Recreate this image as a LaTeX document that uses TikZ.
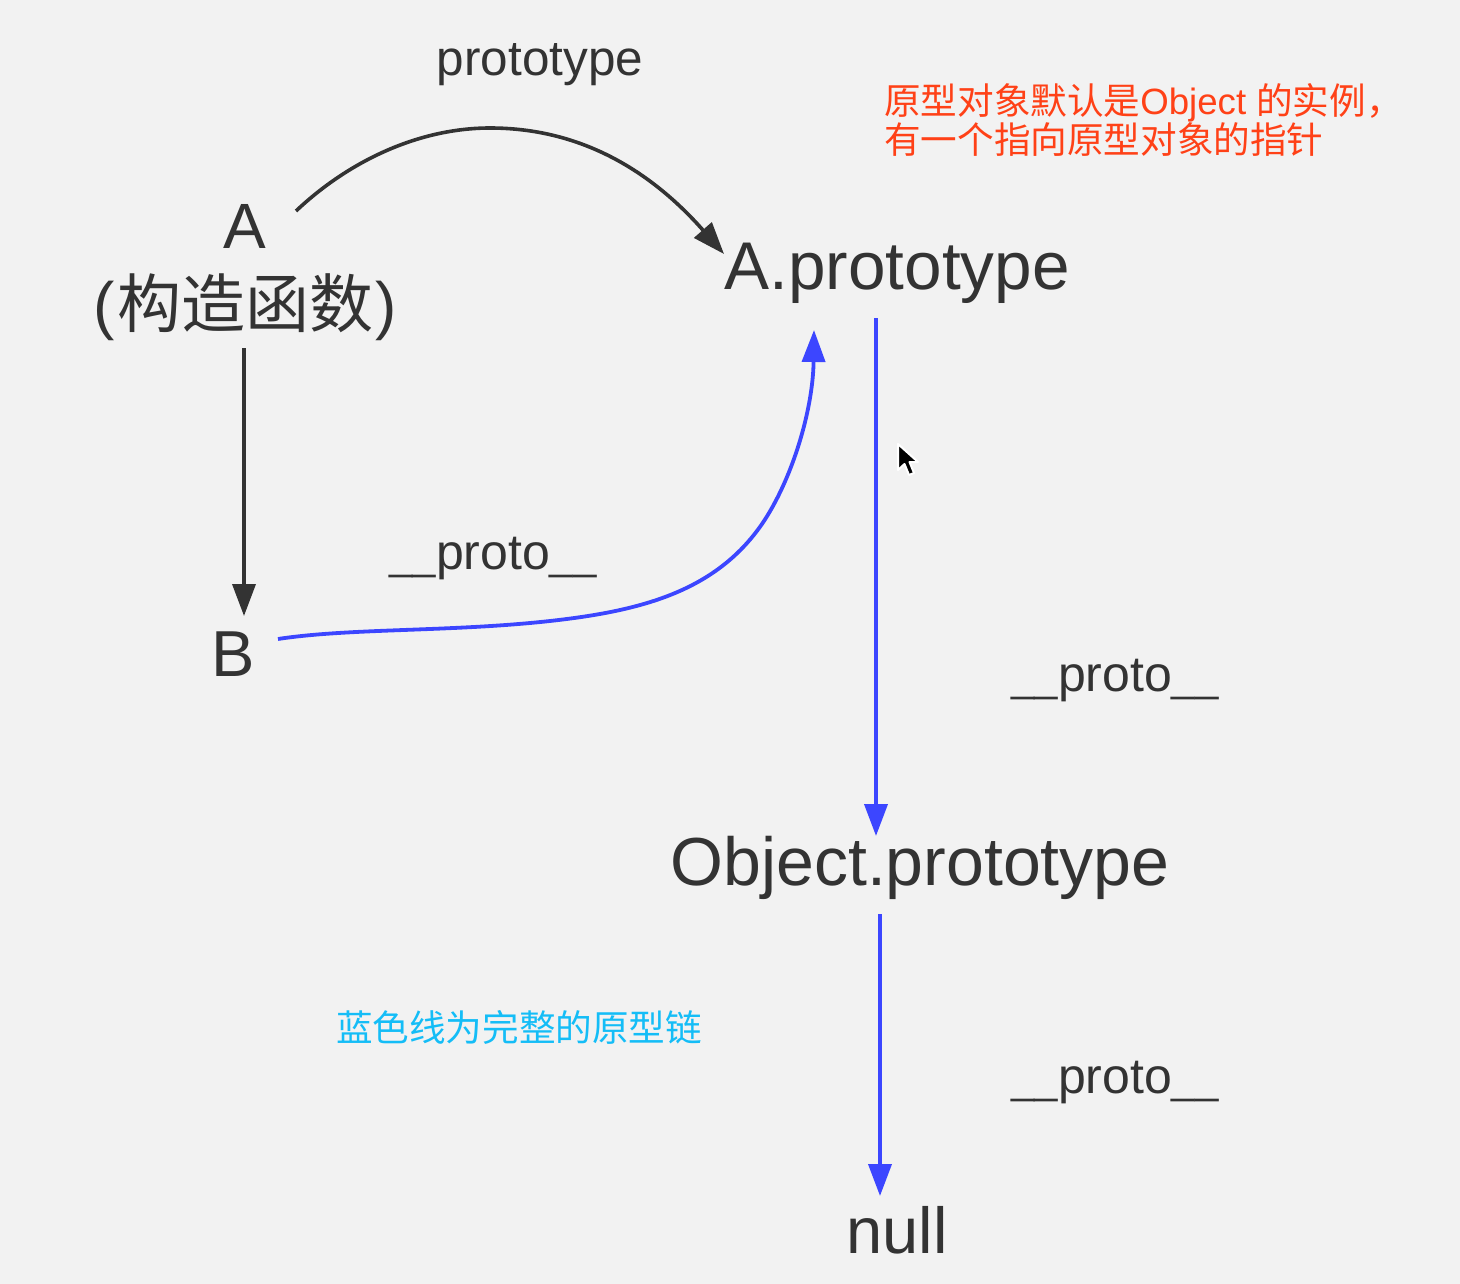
\documentclass[tikz,border=0pt]{standalone}
\usepackage{fontspec}
\setmainfont{Liberation Sans}
\newfontfamily\cjk{Noto Sans CJK SC}
\newcommand{\protolabel}{{\fontsize{42}{42}\selectfont\_\_}proto{\fontsize{42}{42}\selectfont\_\_}}
\usetikzlibrary{arrows.meta}
\definecolor{bgc}{HTML}{F2F2F2}
\definecolor{ink}{HTML}{333333}
\definecolor{chain}{HTML}{3C46FF}
\definecolor{noteRed}{HTML}{FF4117}
\definecolor{noteCyan}{HTML}{14BDF7}
\tikzset{
  lbl/.style={inner sep=0pt,text=ink,font=\fontsize{#1}{#1}\selectfont,anchor=center},
  inkline/.style={draw=ink,line width=3.6pt,-{Triangle[length=32pt,width=23pt,fill=ink]}},
  chainline/.style={draw=chain,line width=3.8pt,-{Triangle[length=32pt,width=23pt,fill=chain]}},
}
\begin{document}
\begin{tikzpicture}[x=1pt,y=-1pt]
\useasboundingbox[fill=bgc] (0,0) rectangle (1460,1284);
\node[lbl=49.5] (protoTop) at (540,65) {prototype};
\node[lbl=64] (A) at (245,226) {A};
\node[lbl=64] (Actor) at (245,307) {(\kern2pt{\cjk 构造函数}\kern2pt)};
\node[lbl=67.5] (Aproto) at (897,273) {A.prototype};
\node[lbl=65] (B) at (233,654) {B};
\node[lbl=68] (Oproto) at (920,868) {Object.prototype};
\node[lbl=65] (Null) at (897,1230) {null};
\node[lbl=50] (p1) at (493,559) {\protolabel};
\node[lbl=50] (p2) at (1115,681) {\protolabel};
\node[lbl=50] (p3) at (1115,1083) {\protolabel};
\node[inner sep=0pt,text=noteRed,align=left,anchor=north west,font=\fontsize{36.6}{37}\selectfont] (noteA) at (884,83) {{\cjk 原型对象默认是}Object {\cjk 的实例，}\\{\cjk 有一个指向原型对象的指针}};
\node[inner sep=0pt,text=noteCyan,anchor=center,font=\fontsize{36.6}{38}\selectfont\cjk] (noteB) at (519,1027) {蓝色线为完整的原型链};
\coordinate (aOut) at (296,211);
\coordinate (aIn) at (724,254);
\coordinate (aDown) at (244,348);
\coordinate (bTop) at (244,616);
\coordinate (bOut) at (278,639);
\coordinate (apIn) at (814,330);
\coordinate (apOut) at (876,318);
\coordinate (opIn) at (876,836);
\coordinate (opOut) at (880,914);
\coordinate (nullIn) at (880,1196);
\draw[inkline] (aOut) .. controls (350,160) and (420,128) .. (490,128) .. controls (580,128) and (650,170) .. (aIn);
\draw[inkline] (aDown) -- (bTop);
\draw[chainline] (bOut) .. controls (350,628) and (450,632) .. (550,621) .. controls (640,611) and (715,592) .. (762,524) .. controls (792,480) and (813,410) .. (apIn);
\draw[chainline] (apOut) -- (opIn);
\draw[chainline] (opOut) -- (nullIn);
\fill[black,draw=white,line width=2pt,line join=round] (898,444) -- (898,470) -- (904.5,464) -- (909,475) -- (914,473) -- (909.5,462) -- (918,462) -- cycle;
\end{tikzpicture}
\end{document}
